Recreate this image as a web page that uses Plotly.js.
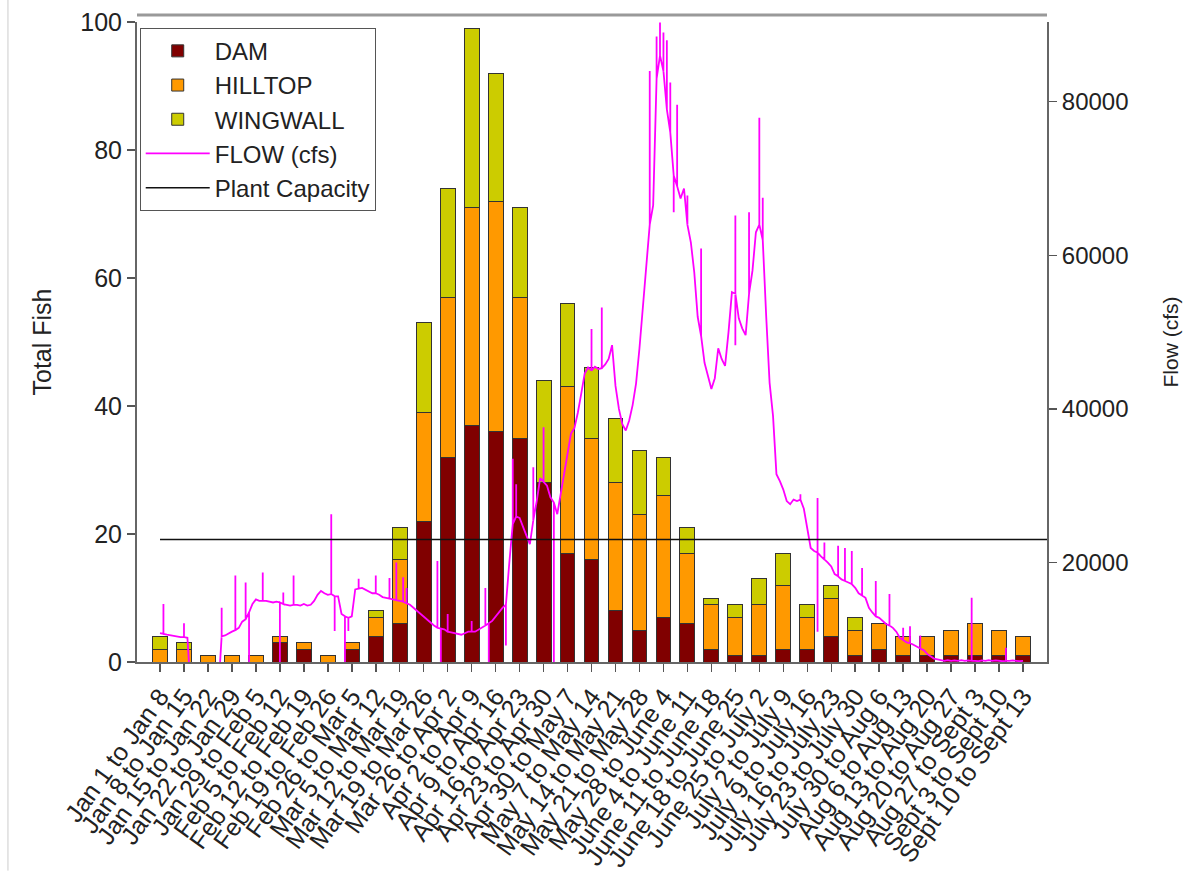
<!DOCTYPE html>
<html>
<head>
<meta charset="utf-8">
<script src="https://cdn.plot.ly/plotly-3.0.1.min.js"></script>
<style>html,body{margin:0;padding:0;background:#fff;}#chart{width:1186px;height:882px;}</style>
</head>
<body>
<div id="chart"></div>
<script>
// ---- data ----
const categories = [
  "Jan 1 to Jan 8","Jan 8 to Jan 15","Jan 15 to Jan 22","Jan 22 to Jan 29","Jan 29 to Feb 5",
  "Feb 5 to Feb 12","Feb 12 to Feb 19","Feb 19 to Feb 26","Feb 26 to Mar 5","Mar 5 to Mar 12",
  "Mar 12 to Mar 19","Mar 19 to Mar 26","Mar 26 to Apr 2","Apr 2 to Apr 9","Apr 9 to Apr 16",
  "Apr 16 to Apr 23","Apr 23 to Apr 30","Apr 30 to May 7","May 7 to May 14","May 14 to May 21",
  "May 21 to May 28","May 28 to June 4","June 4 to June 11","June 11 to June 18","June 18 to June 25",
  "June 25 to July 2","July 2 to July 9","July 9 to July 16","July 16 to July 23","July 23 to July 30",
  "July 30 to Aug 6","Aug 6 to Aug 13","Aug 13 to Aug 20","Aug 20 to Aug 27","Aug 27 to Sept 3",
  "Sept 3 to Sept 10","Sept 10 to Sept 13"
];
const dam      = [0,0,0,0,0,3,2,0,2,4, 6,22,32,37,36,35,28,17,16,8, 5,7,6,2,1,1,2,2,4,1, 2,1,1,1,1,1,1];
const hilltop  = [2,2,1,1,1,1,1,1,1,3, 10,17,25,34,36,22,0,26,19,20, 18,19,11,7,6,8,10,5,6,4, 4,3,3,4,5,4,3];
const wingwall = [2,1,0,0,0,0,0,0,0,1, 5,14,17,28,20,14,16,13,11,10, 10,6,4,1,2,4,5,2,2,2, 0,0,0,0,0,0,0];

// daily flow (cfs) from Jan 1 (day 0)
const flowStart = "2011-01-01";
const flow = [
  10800,10700,10600,10500,10500,10400,10300,10300,10200,3000,
  3000,3000,3000,3000,3000,3000,3000,3000,10400,10500,
  10800,11000,11200,11500,12300,12600,13500,14600,15200,15000,
  15000,15000,14900,14800,14900,14800,14600,14500,14400,14500,
  14500,14400,14600,14400,14500,15000,15800,16300,16000,15800,
  15900,15600,15600,13300,13000,12800,13000,16500,16600,16700,
  16500,16300,16000,16000,15800,15500,15400,15300,15200,15100,
  15000,14900,14700,14500,14100,13700,13300,12900,12500,12100,
  11800,11500,11400,11300,11000,10900,10800,10700,10600,10800,
  11000,11000,11000,11300,11500,11800,12100,12400,13000,13500,
  14100,14500,20000,25000,26000,25800,24500,23500,22400,25500,
  28000,31000,30500,30000,28500,27800,26300,29000,32000,34500,
  36800,37500,39500,42000,44600,45400,45000,45500,45200,45300,
  45800,46500,48300,43000,40000,38000,37200,38500,40500,43300,
  47900,53000,58000,64000,66500,83000,86000,84000,79000,76000,
  70400,69000,67400,68700,64000,61700,57800,52000,49500,46000,
  44300,42600,44000,47900,46500,45600,50000,55200,55000,51800,
  50500,49600,55000,58000,63000,64000,62000,52100,43400,39100,
  31500,30600,29500,28000,27600,28200,28000,28200,27000,24500,
  21900,21500,21300,20800,20400,20000,19500,18500,18200,17800,
  17600,17400,17200,16700,16000,15700,15400,14100,13500,13000,
  12800,12400,12000,11800,11500,11000,10200,9900,9600,9500,
  9300,9000,8800,8600,8100,7800,7500,7400,7300,7200,
  7300,7200,7250,7200,7300,7200,7250,7200,7200,7150,
  7250,7200,7300,7200,7250,7200,7150,7200,7200,7250,
  7200,7150,7200
];
// short-lived readings (spikes) : day index and value
const spikeDays   = [1,7,18,22,25,26,30,35,36,39,50,51,54,55,58,63,67,69,71,72,
                     81,82,84,91,95,96,101,103,104,109,112,115,126,129,
                     143,145,146,147,148,149,150,151,154,158,168,168,172,175,176,
                     187,192,192,194,198,200,202,205,209,213,217,219,222,237,247];
const spikeValues = [14600,12100,14100,18300,17400,3000,18700,3000,16100,18300,26300,11100,3000,11100,17900,18300,18000,20000,18100,16700,
                     20200,3000,13300,12400,16700,3000,9200,33500,30200,32400,37600,3000,50400,53200,
                     84000,88500,90300,89000,88000,82500,65600,79600,67800,60900,65200,48300,65600,77900,67500,
                     28900,28400,11000,22600,22200,21900,21500,19300,17600,15900,11500,11700,10500,15400,8900];
const plantCapacity = 23000;

// ---- axis helpers ----
const xRange = [-0.96, 37];               // category-axis range
const DAY = 86400000;
const t0 = Date.parse(flowStart + "T00:00:00Z");
function iso(ms){ return new Date(ms).toISOString().slice(0,19).replace("T"," "); }
const x2Range = [iso(t0 + xRange[0]*7*DAY), iso(t0 + xRange[1]*7*DAY)];

// assemble flow trace: daily readings, with the short spikes at their day
const flowX = [], flowY = [];
flow.forEach((v, i) => {
  const d = iso(t0 + i*DAY);
  flowX.push(d); flowY.push(v);
  spikeDays.forEach((sd, k) => {
    if (sd === i) { flowX.push(d, d); flowY.push(spikeValues[k], v); }
  });
});

const barLine = {color:"#333333", width:1};
const FONT = "Liberation Sans, Arial, sans-serif";

const traces = [
  {type:"bar", name:"DAM", x:categories, y:dam, width:0.62,
   marker:{color:"#800000", line:barLine}},
  {type:"bar", name:"HILLTOP", x:categories, y:hilltop, width:0.62,
   marker:{color:"#FF9900", line:barLine}},
  {type:"bar", name:"WINGWALL", x:categories, y:wingwall, width:0.62,
   marker:{color:"#CCCC00", line:barLine}},
  {type:"scatter", mode:"lines", name:"FLOW (cfs)", x:flowX, y:flowY,
   xaxis:"x2", yaxis:"y2", line:{color:"#FF00FF", width:1.8}},
  {type:"scatter", mode:"lines", name:"Plant Capacity",
   x:[iso(t0), x2Range[1]], y:[plantCapacity, plantCapacity],
   xaxis:"x2", yaxis:"y2", line:{color:"#111111", width:1.5}}
];

const layout = {
  width:1186, height:882,
  margin:{l:137, r:139, t:22, b:220, pad:0},
  paper_bgcolor:"#ffffff", plot_bgcolor:"#ffffff",
  font:{family:FONT, color:"#222"},
  barmode:"stack",
  showlegend:true,
  legend:{x:0.003, y:0.991, xanchor:"left", yanchor:"top",
          bgcolor:"#ffffff", bordercolor:"#555", borderwidth:1,
          font:{family:FONT, size:24, color:"#222"},
          traceorder:"normal", itemwidth:64},
  xaxis:{type:"category", range:xRange, dtick:1, tickangle:-54,
         ticks:"outside", ticklen:8, tickcolor:"#555", tickwidth:1.5,
         showline:true, linecolor:"#666", linewidth:2,
         showgrid:false, zeroline:false,
         tickfont:{family:FONT, size:25, color:"#222"}, automargin:false},
  yaxis:{range:[0,100], tickvals:[0,20,40,60,80,100],
         ticks:"outside", ticklen:8, tickcolor:"#555", tickwidth:1.5,
         showline:true, linecolor:"#666", linewidth:2,
         showgrid:false, zeroline:false,
         tickfont:{family:FONT, size:25, color:"#222"},
         title:{text:"Total Fish", font:{family:FONT, size:25, color:"#222"}, standoff:22},
         automargin:false},
  xaxis2:{type:"date", overlaying:"x", range:x2Range, visible:false},
  yaxis2:{overlaying:"y", side:"right", anchor:"x2", range:[7050, 90380],
          tickvals:[20000,40000,60000,80000], tickformat:"d",
          ticks:"outside", ticklen:8, tickcolor:"#555", tickwidth:1.5,
          showline:true, linecolor:"#666", linewidth:2,
          showgrid:false, zeroline:false,
          tickfont:{family:FONT, size:24, color:"#222"},
          title:{text:"Flow (cfs)", font:{family:FONT, size:21, color:"#222"}, standoff:36},
          automargin:false},
  shapes:[
    {type:"line", xref:"paper", yref:"paper", x0:0, x1:1, y0:1.011, y1:1.011,
     line:{color:"#999", width:3}},
    {type:"line", xref:"paper", yref:"paper", x0:-0.1418, x1:-0.1418, y0:-0.326, y1:1.04,
     line:{color:"#ccc", width:1}}
  ]
};

Plotly.newPlot("chart", traces, layout, {displayModeBar:false, staticPlot:true});
</script>
</body>
</html>
